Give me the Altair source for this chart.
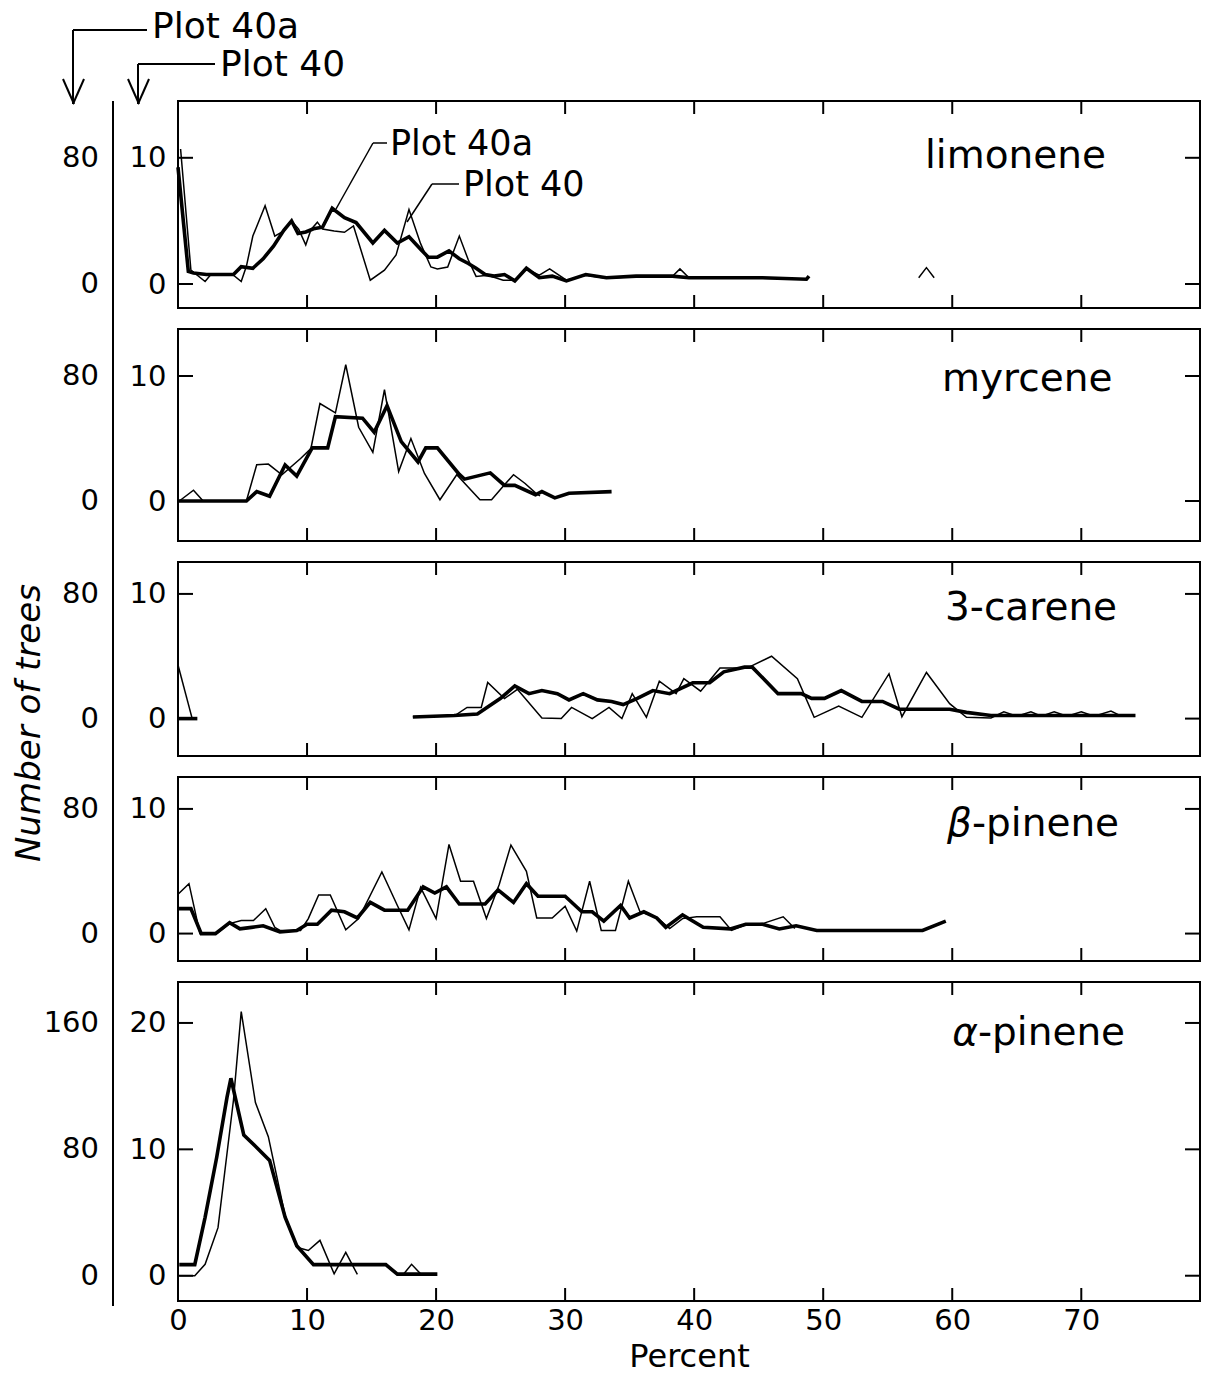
import altair as alt
import pandas as pd

# ---------------- data (x = percent of compound; Plot 40 on its 0-10 scale, Plot 40a in trees) -------------
limonene_p40_x = [0.2, 1.0, 2.1, 2.5, 3.2, 4.3, 4.9, 5.3, 5.8, 6.75, 7.5, 8.2, 8.8, 9.35, 9.9, 10.3, 10.8, 11.2,
                  12.1, 12.9, 13.6, 14.9, 16.0, 16.9, 17.9, 18.8, 19.6, 20.1, 20.9, 21.8, 22.5, 23.1, 24.0, 25.2,
                  26.1, 27.0, 28.0, 28.8, 30.1, 31.6, 33.2, 35.5, 38.3, 38.9, 39.6, 42.0, 45.3, 48.7]
limonene_p40_n = [10.7, 1.1, 0.2, 0.7, 0.7, 0.7, 0.2, 1.4, 3.8, 6.2, 3.8, 4.2, 5.0, 4.35, 3.1, 4.3, 4.9, 4.35,
                  4.2, 4.1, 4.6, 0.3, 1.1, 2.3, 5.9, 3.2, 1.35, 1.2, 1.35, 3.8, 1.9, 0.6, 0.7, 0.3,
                  0.3, 1.2, 0.7, 1.2, 0.3, 0.7, 0.45, 0.6, 0.6, 1.2, 0.5, 0.55, 0.45, 0.4]
limonene_p40_x2 = [57.4, 58.0, 58.6]
limonene_p40_n2 = [0.5, 1.3, 0.5]
limonene_p40a_x = [0, 0.8, 1.2, 2.2, 3.25, 4.3, 4.9, 5.8, 6.6, 7.4, 8.2, 8.8, 9.3, 9.9, 10.5, 11.2, 11.95, 12.9,
                   13.8, 15.1, 16.0, 17.0, 17.9, 18.8, 19.4, 20.1, 21.0, 21.8, 22.5, 23.1, 23.8, 24.5, 25.3, 26.1,
                   27.0, 28.0, 29.0, 30.1, 31.6, 33.2, 35.5, 38.3, 39.6, 42.0, 45.3, 48.7, 48.9]
limonene_p40a_n = [74, 8, 7, 6, 6, 6, 11, 10, 16, 24, 34, 40, 32, 33, 35, 36, 48, 42,
                   39, 26, 34, 26, 30, 22, 17, 17, 21, 16, 13, 10, 6, 5, 6, 2,
                   10, 4, 5, 2, 6, 4, 5, 5, 4, 4, 4, 3, 5]

myrcene_p40_x = [0.1, 1.2, 1.95, 5.3, 6.1, 7.0, 8.05, 9.5, 10.3, 11.0, 12.2, 13.0, 14.0, 15.1, 16.0, 17.1,
                 18.05, 19.1, 20.3, 21.6, 23.4, 24.3, 25.3, 26.0, 26.9, 27.7, 28.05]
myrcene_p40_n = [0, 0.86, 0, 0, 2.9, 2.95, 2.1, 3.4, 4.2, 7.8, 7.05, 10.9, 5.9, 3.9, 8.9, 2.35,
                 5.0, 2.2, 0.1, 2.1, 0.1, 0.1, 1.3, 2.1, 1.4, 0.65, 0.4]
myrcene_p40a_x = [0, 5.3, 6.1, 7.1, 8.3, 9.2, 10.4, 11.6, 12.2, 14.3, 15.2, 16.2, 17.3, 18.6, 19.2, 20.1,
                  21.8, 22.2, 24.2, 25.3, 26.1, 27.7, 28.2, 29.2, 30.3, 33.6]
myrcene_p40a_n = [0, 0, 6, 3, 23, 16, 34, 34, 54, 53, 44, 61, 38, 25, 34, 34,
                  17, 14, 18, 10, 10, 4, 6, 2, 5, 6]

carene_p40_x1 = [0, 1.1]
carene_p40_n1 = [4.3, 0]
carene_p40_x = [18.2, 21.4, 22.4, 23.5, 24.0, 25.3, 26.3, 28.2, 29.7, 30.5, 32.1, 33.4, 34.4, 35.2, 36.3,
                37.3, 38.6, 39.2, 40.5, 42.0, 44.1, 46.0, 48.0, 49.3, 51.2, 53.0, 55.1, 56.1, 58.0, 59.8,
                61.1, 63.0, 64.0, 65.0, 66.1, 66.9, 67.9, 68.9, 70.0, 71.0, 72.3, 73.1]
carene_p40_n = [0.15, 0.2, 0.9, 0.9, 2.9, 1.6, 2.35, 0.05, 0, 0.9, 0, 0.9, 0, 2.0, 0.1,
                3.0, 2.0, 3.2, 2.2, 4.05, 4.05, 5.0, 3.2, 0.1, 1.0, 0.1, 3.6, 0.15, 3.7, 1.2,
                0.1, 0.05, 0.55, 0.2, 0.55, 0.2, 0.55, 0.2, 0.55, 0.2, 0.6, 0.2]
carene_p40a_x1 = [0, 1.5]
carene_p40a_n1 = [0, 0]
carene_p40a_x = [18.2, 21.4, 23.2, 25.0, 26.1, 27.2, 28.2, 29.4, 30.3, 31.4, 32.5, 33.6, 34.5, 35.6, 36.8,
                 38.1, 39.9, 41.2, 42.3, 43.9, 44.5, 46.5, 48.3, 49.1, 50.1, 51.4, 53.0, 54.6, 55.9, 58.0,
                 59.8, 61.1, 63.0, 65.0, 67.0, 69.0, 71.0, 74.2]
carene_p40a_n = [1, 2, 3, 13, 21, 16, 18, 16, 12, 16, 12, 11, 9, 13, 18,
                 16, 23, 23, 30, 33, 33, 16, 16, 13, 13, 18, 11, 11, 6, 6,
                 6, 4, 2, 2, 2, 2, 2, 2]

bpinene_p40_x = [0, 0.85, 1.7, 3.0, 4.0, 4.9, 5.85, 6.8, 7.5, 7.9, 9.5, 10.1, 10.9, 11.8, 13.0, 14.0,
                 15.8, 17.0, 17.9, 18.8, 20.0, 21.0, 21.9, 22.9, 23.9, 24.9, 25.8, 27.0, 27.8, 29.0,
                 30.0, 30.9, 31.9, 32.8, 33.9, 34.9, 35.8, 37.1, 38.1, 39.1, 40.2, 42.0, 42.9, 44.0,
                 45.3, 46.9, 47.8]
bpinene_p40_n = [3.15, 4.0, 0, 0, 0.8, 1.05, 1.05, 2.0, 0.5, 0.25, 0.25, 1.2, 3.1, 3.1, 0.3, 1.2,
                 4.95, 2.25, 0.3, 3.7, 1.2, 7.15, 4.2, 4.2, 1.2, 3.95, 7.1, 5.0, 1.25, 1.25,
                 2.2, 0.2, 4.2, 0.25, 0.25, 4.2, 1.75, 1.3, 0.4, 1.2, 1.35, 1.35, 0.25, 0.7,
                 0.8, 1.35, 0.4]
bpinene_p40a_x = [0, 1.0, 1.8, 2.9, 4.0, 4.8, 5.7, 6.6, 7.9, 9.2, 10.0, 10.8, 11.9, 12.9, 13.9, 14.9,
                  16.0, 17.8, 19.0, 19.9, 20.8, 21.8, 23.8, 24.8, 26.0, 27.0, 27.9, 30.0, 31.3, 32.1,
                  33.0, 34.3, 35.0, 36.1, 37.1, 37.8, 39.1, 40.7, 42.8, 44.0, 45.3, 46.6, 47.9, 49.5,
                  57.7, 59.5]
bpinene_p40a_n = [16, 16, 0, 0, 7, 3, 4, 5, 1, 2, 6, 6, 15, 14, 10, 20,
                  15, 15, 30, 26, 30, 19, 19, 28, 20, 32, 24, 24, 14, 14,
                  8, 18, 10, 14, 10, 4, 12, 4, 3, 6, 6, 3, 5, 2,
                  2, 8]

apinene_p40_x = [0.1, 1.3, 2.1, 3.1, 4.3, 4.9, 6.0, 7.0, 8.3, 9.2, 10.1, 11.0, 12.1, 13.0, 13.9]
apinene_p40_n = [0, 0, 0.9, 3.8, 13.9, 20.9, 13.7, 11.0, 4.75, 2.25, 2.0, 2.8, 0.15, 1.85, 0.1]
apinene_p40_x2 = [17.5, 18.1, 18.8]
apinene_p40_n2 = [0.15, 0.9, 0.15]
apinene_p40a_x = [0.1, 1.3, 2.1, 3.0, 3.8, 4.1, 5.1, 6.0, 7.1, 8.3, 9.2, 10.5, 16.1, 17.0, 20.1]
apinene_p40a_n = [7, 7, 37, 75, 113, 125, 89, 82, 73, 37, 19, 7, 7, 1, 1]

x_tick_labels = [0, 10, 20, 30, 40, 50, 60, 70]
x_inner_ticks = [10, 20, 30, 40, 50, 60, 70]

# ---------------- layout ---------------------------------------------------------------------------
FONT = "DejaVu Sans"
W = 1022
X_DOMAIN = [0, 79.2]
RATIO = 8  # Plot 40a trees per unit of the Plot 40 scale
SPACING = 21
OUTER = 65  # distance of the Plot 40a scale line from the frame


def seg_frame(segs):
    rows = []
    for k, (xs, ns) in enumerate(segs):
        for x, n in zip(xs, ns):
            rows.append({"x": x, "n": n, "seg": k})
    return pd.DataFrame(rows)


ONE = pd.DataFrame({"a": [0]})


def line_rule(x1, y1, x2, y2, w=2.0):
    return alt.Chart(ONE).mark_rule(color="black", strokeWidth=w).encode(
        x=alt.value(x1), y=alt.value(y1), x2=alt.value(x2), y2=alt.value(y2))


def free_text(txt, x, y, size, align="left", italic=False, angle=None):
    kw = dict(text=txt, align=align, baseline="middle", fontSize=size, font=FONT, color="black",
              fontStyle="italic" if italic else "normal")
    if angle is not None:
        kw["angle"] = angle
    return alt.Chart(ONE).mark_text(**kw).encode(x=alt.value(x), y=alt.value(y))


def panel(H, dom, segs40, segs40a, ticks40, labels, extras, last=False, line_top=-11, line_bot=11):
    lo, hi = dom
    xsc = alt.Scale(domain=X_DOMAIN, nice=False, zero=False)
    ysc = alt.Scale(domain=[lo, hi], nice=False, zero=False)
    if last:
        xaxis = alt.Axis(values=x_tick_labels, title="Percent", domain=False, ticks=False, tickSize=0,
                         labelPadding=5, titlePadding=6, grid=False, labelFontSize=29, titleFontSize=32,
                         labelFlush=False)
    else:
        xaxis = None
    yaxis = alt.Axis(orient="left", values=ticks40, title=None, domain=False, ticks=False, tickSize=0,
                     labelPadding=12, grid=False, labelFontSize=29)
    thin = alt.Chart(seg_frame(segs40)).mark_line(color="black", strokeWidth=1.5).encode(
        x=alt.X("x:Q", scale=xsc, axis=xaxis),
        y=alt.Y("n:Q", scale=ysc, axis=yaxis),
        detail="seg:N")
    thick = alt.Chart(seg_frame(segs40a)).transform_calculate(n40=f"datum.n / {RATIO}").mark_line(
        color="black", strokeWidth=3.6).encode(
        x=alt.X("x:Q", scale=xsc, axis=xaxis),
        y=alt.Y("n40:Q", scale=ysc, axis=yaxis),
        detail="seg:N")
    ytdf = pd.DataFrame({"v": ticks40})
    xtdf = pd.DataFrame({"t": x_inner_ticks})
    outer_labels = alt.Chart(ytdf).transform_calculate(lab=f"format(datum.v * {RATIO}, 'd')").mark_text(
        align="right", baseline="middle", fontSize=29, font=FONT, color="black").encode(
        y=alt.Y("v:Q", scale=ysc, axis=yaxis), x=alt.value(-OUTER - 14), text="lab:N")
    deco = [
        alt.Chart(ytdf).mark_rule(color="black", strokeWidth=2).encode(
            y=alt.Y("v:Q", scale=ysc, axis=yaxis), x=alt.value(0), x2=alt.value(15)),
        alt.Chart(ytdf).mark_rule(color="black", strokeWidth=2).encode(
            y=alt.Y("v:Q", scale=ysc, axis=yaxis), x=alt.value(W - 15), x2=alt.value(W)),
        alt.Chart(xtdf).mark_rule(color="black", strokeWidth=2).encode(
            x=alt.X("t:Q", scale=xsc, axis=xaxis), y=alt.value(0), y2=alt.value(13)),
        alt.Chart(xtdf).mark_rule(color="black", strokeWidth=2).encode(
            x=alt.X("t:Q", scale=xsc, axis=xaxis), y=alt.value(H), y2=alt.value(H - 13)),
        line_rule(-OUTER, line_top, -OUTER, H + line_bot, 2),
        outer_labels,
    ]
    return alt.layer(thin, thick, *deco, *labels, *extras).properties(width=W, height=H)


LBL = 39

p1_extras = [
    # header arrows pointing at the two count scales
    free_text("Plot 40a", -26, -74, 36),
    line_rule(-105, -71, -31, -71), line_rule(-105, -71, -105, 3),
    line_rule(-115, -22, -104, 3), line_rule(-94, -22, -105, 3),
    free_text("Plot 40", 42, -36, 36),
    line_rule(-40, -37, 37, -37), line_rule(-40, -37, -40, 3),
    line_rule(-50, -22, -39, 3), line_rule(-29, -22, -40, 3),
    # in-plot leaders
    free_text("Plot 40a", 212, 43, 35),
    line_rule(209, 42, 195, 42, 1.5), line_rule(195, 42, 158, 108, 1.5),
    free_text("Plot 40", 285, 84, 35),
    line_rule(281, 83, 254, 83, 1.5), line_rule(254, 83, 229, 121, 1.5),
]

p1 = panel(207, (-1.9, 14.5),
           [(limonene_p40_x, limonene_p40_n), (limonene_p40_x2, limonene_p40_n2)],
           [(limonene_p40a_x, limonene_p40a_n)], [0, 10],
           [free_text("limonene", 747, 55, LBL)], p1_extras, line_top=0)
p2 = panel(212, (-3.2, 13.76),
           [(myrcene_p40_x, myrcene_p40_n)], [(myrcene_p40a_x, myrcene_p40a_n)], [0, 10],
           [free_text("myrcene", 764, 50, LBL)], [])
p3 = panel(194, (-3.0, 12.56),
           [(carene_p40_x1, carene_p40_n1), (carene_p40_x, carene_p40_n)],
           [(carene_p40a_x1, carene_p40a_n1), (carene_p40a_x, carene_p40a_n)], [0, 10],
           [free_text("3-carene", 767, 46, LBL)],
           [free_text("Number of trees", -148, 161, 34, align="center", italic=True, angle=270)])
p4 = panel(184, (-2.2, 12.56),
           [(bpinene_p40_x, bpinene_p40_n)], [(bpinene_p40a_x, bpinene_p40a_n)], [0, 10],
           [free_text("β", 794, 47, LBL, align="right", italic=True), free_text("-pinene", 794, 47, LBL)], [])
p5 = panel(319, (-2.0, 23.24),
           [(apinene_p40_x, apinene_p40_n), (apinene_p40_x2, apinene_p40_n2)],
           [(apinene_p40a_x, apinene_p40a_n)], [0, 10, 20],
           [free_text("α", 800, 51, LBL, align="right", italic=True), free_text("-pinene", 800, 51, LBL)], [],
           last=True, line_bot=5)

chart = alt.vconcat(p1, p2, p3, p4, p5, spacing=SPACING, bounds="flush").properties(
    background="white", padding={"left": 12, "top": 8, "right": 0, "bottom": 0}
).configure_view(stroke="black", strokeWidth=2).configure_axis(
    labelFont=FONT, titleFont=FONT, labelColor="black", titleColor="black", labelFontSize=29,
    titleFontWeight="normal")

chart.save("out.html", embed_options={"renderer": "svg", "actions": False})
